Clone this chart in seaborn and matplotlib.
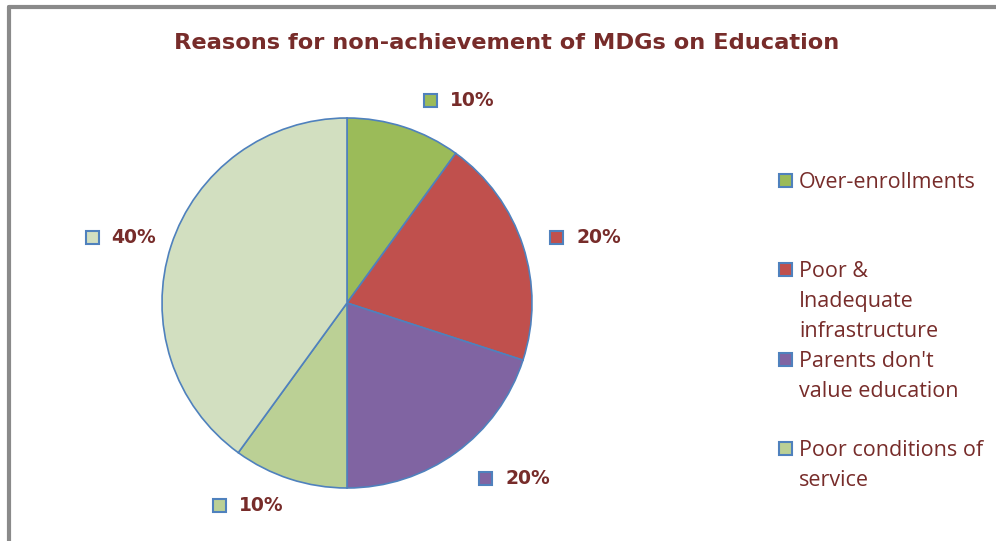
import numpy as np
import matplotlib
matplotlib.use("Agg")
import matplotlib.pyplot as plt
from matplotlib.lines import Line2D
from matplotlib.patches import Rectangle
import seaborn as sns

sns.set_theme(style="white")

# Chart data
title = "Reasons for non-achievement of MDGs on Education"
categories = ["Over-enrollments", "Poor &\nInadequate\ninfrastructure",
              "Parents don't\nvalue education", "Poor conditions of\nservice", ""]
shares = [10, 20, 20, 10, 40]
colors = ["#9BBB59", "#C0504D", "#8064A2", "#BBD095", "#D2DFC0"]

W, H = 996, 541
fig = plt.figure(figsize=(W / 100, H / 100), dpi=100)
fig.patch.set_facecolor("white")

text_color = "#772C2A"
edge_color = "#4F81BD"

# Outer frame (top and left edges visible)
fig.add_artist(Line2D([9 / W, 1.0], [1 - 7 / H, 1 - 7 / H], color="#8A8A8A", lw=3,
                      transform=fig.transFigure))
fig.add_artist(Line2D([9 / W, 9 / W], [0, 1 - 7 / H], color="#8A8A8A", lw=3,
                      transform=fig.transFigure))

fig.text(507 / W, 1 - 43 / H, title, ha="center", va="center", fontsize=16.2,
         fontweight="bold", color=text_color, family="DejaVu Sans")

# Pie axes
cx, cy, r = 347, 303, 185
ax = fig.add_axes([(cx - r) / W, (H - cy - r) / H, 2 * r / W, 2 * r / H])
wedges, _ = ax.pie(shares, colors=colors, startangle=90, counterclock=False,
                   wedgeprops=dict(edgecolor=edge_color, linewidth=1.2))
ax.set_xlim(-1, 1)
ax.set_ylim(-1, 1)
ax.set_aspect("equal")
ax.axis("off")

# Percentage labels with color keys, placed around the pie
angle_nudge = [-9, -2, 6, -10, 2.5]
label_r = [1.23, 1.29, 1.28, 1.24, 1.32]
for w, v, c, dn, rr in zip(wedges, shares, colors, angle_nudge, label_r):
    mid = np.deg2rad((w.theta1 + w.theta2) / 2 + dn)
    px = cx + rr * r * np.cos(mid)
    py = cy - rr * r * np.sin(mid)
    fig.add_artist(Rectangle(((px - 26) / W, (H - py - 6.5) / H), 13 / W, 13 / H,
                             facecolor=c, edgecolor=edge_color, lw=1.5,
                             transform=fig.transFigure))
    fig.text(px / W, 1 - py / H, f"{v}%", ha="left", va="center",
             fontsize=13.5, fontweight="bold", color=text_color, family="DejaVu Sans")

# Legend (entries with text only), one text line every 30 px
legend_y = [180, 269, 359, 448]
line_step = 30
for lab, c, ly in zip(categories, colors, legend_y):
    fig.add_artist(Rectangle((779 / W, (H - ly - 6.5) / H), 13 / W, 13 / H,
                             facecolor=c, edgecolor=edge_color, lw=1.5,
                             transform=fig.transFigure))
    for i, line in enumerate(lab.split("\n")):
        fig.text(799 / W, 1 - (ly + i * line_step) / H, line, ha="left",
                 va="center_baseline", fontsize=15.5, color=text_color,
                 family="Open Sans")

fig.savefig("out.png", dpi=100, facecolor="white")
